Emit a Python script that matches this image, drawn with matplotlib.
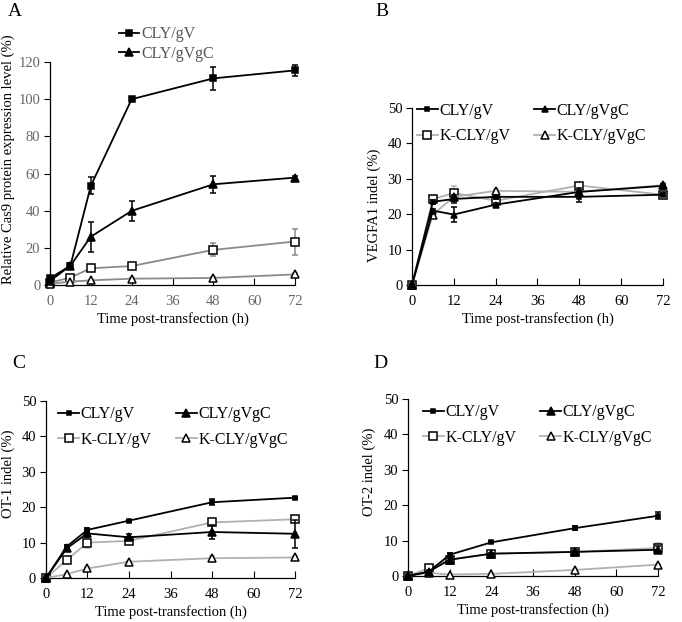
import numpy as np
import matplotlib
matplotlib.use('Agg')
from matplotlib import pyplot as plt

plt.rcParams['font.family'] = ['Liberation Serif', 'DejaVu Serif']
plt.rcParams['font.size'] = 10.5

hours = [0, 6, 12, 24, 48, 72]
labels = ['CLY/gV', 'CLY/gVgC', 'K-CLY/gV', 'K-CLY/gVgC']

# panel A: relative Cas9 protein expression (%)
a_gv = [3.6, 10.4, 53.4, 100, 111.2, 115.5]
a_gv_err = [0, 1.5, 4.5, 0, 6, 3]
a_gvgc = [2.2, 10.4, 26, 39.9, 54.2, 57.8]
a_gvgc_err = [0, 1.5, 8, 5.5, 4.5, 1]
a_kgv = [1.3, 4, 9, 10.2, 18.9, 23.4]
a_kgv_err = [0, 1, 1, 1, 3.5, 7]
a_kgvgc = [0.7, 1.8, 2.5, 3.4, 3.8, 5.7]
a_kgvgc_err = [0, 0.3, 0.3, 0.3, 0.5, 0.8]

# panel B: VEGFA1 indel (%)
b_gv = [0, 23.5, 24.3, 24.9, 24.9, 25.5]
b_gv_err = [0, 0.5, 1, 0.5, 1.5, 0.5]
b_gvgc = [0, 21, 19.9, 22.7, 26.3, 28]
b_gvgc_err = [0, 0.5, 2, 0.5, 1, 0.5]
b_kgv = [0, 24.2, 26, 23.8, 28.1, 25.5]
b_kgv_err = [0, 0.5, 2, 0.5, 0.5, 0.5]
b_kgvgc = [0, 19.9, 24.9, 26.6, 26.3, 28.2]
b_kgvgc_err = [0, 0.5, 1, 0.5, 0.5, 0.5]

# panel C: OT-1 indel (%)
c_gv = [0, 8.9, 13.6, 16.2, 21.4, 22.7]
c_gv_err = [0, 0.5, 0.5, 0.3, 0.8, 0.3]
c_gvgc = [0, 8.4, 12.6, 11.5, 13.0, 12.5]
c_gvgc_err = [0, 0.5, 1, 0.8, 2, 4]
c_kgv = [0, 5.1, 10, 10.5, 15.7, 16.6]
c_kgv_err = [0, 0.5, 1.5, 0.5, 0.5, 0.5]
c_kgvgc = [0, 1.1, 2.7, 4.6, 5.6, 5.8]
c_kgvgc_err = [0, 0.2, 0.3, 0.3, 0.5, 0.5]

# panel D: OT-2 indel (%)
d_gv = [0, 1.2, 6.0, 9.5, 13.5, 17.0]
d_gv_err = [0, 0.3, 0.5, 0.3, 0.6, 1]
d_gvgc = [0, 1.2, 4.6, 6.3, 6.8, 7.4]
d_gvgc_err = [0, 0.3, 0.5, 0.3, 0.5, 1]
d_kgv = [0, 2.2, 4.6, 6.3, 6.8, 7.9]
d_kgv_err = [0, 0.3, 0.5, 0.5, 1, 1.5]
d_kgvgc = [0, 0.9, 0.4, 0.6, 1.7, 3.2]
d_kgvgc_err = [0, 0.1, 0.1, 0.1, 0.2, 0.3]


def style_axes(ax, ymax, ystep, ylabel, label_xy, tick_col='k'):
    for side in ['top', 'right']:
        ax.spines[side].set_visible(False)
    ax.set_xlim(0, 72)
    ax.set_ylim(0, ymax)
    ax.set_xticks(np.arange(0, 73, 12))
    ax.set_yticks(np.arange(0, ymax + 1, ystep))
    ax.tick_params(axis='x', direction='in', length=5, pad=7, labelcolor=tick_col)
    ax.tick_params(axis='y', direction='out', length=4, pad=3, labelcolor=tick_col)
    ax.set_xlabel('Time post-transfection (h)', labelpad=3)
    ax.set_ylabel(ylabel)
    ax.yaxis.set_label_coords(*label_xy)
    for sp in ax.spines.values():
        sp.set_linewidth(0.9)


def draw_series(ax, ys, errs, small_sq=True, grey_col='#b0b0b0', tri_ms=5.5):
    specs = [
        ('k', 's', 'k', 2.8 if small_sq else 5),
        ('k', '^', 'k', tri_ms),
        (grey_col, 's', 'w', 5.5),
        (grey_col, '^', 'w', 5.5),
    ]
    handles = []
    for i, (y, e) in enumerate(zip(ys, errs)):
        col, mk, fc, ms = specs[i]
        h = ax.errorbar(hours, y, yerr=e, color=col, marker=mk, markerfacecolor=fc,
                        markeredgecolor='k', markeredgewidth=1.1, markersize=ms,
                        linewidth=1.3, elinewidth=1.1, capsize=2.5, capthick=1.1,
                        clip_on=False, zorder=3 + (1 if i < 2 else 0))
        handles.append(h.lines[0])
    return handles


fig = plt.figure(figsize=(6.82, 6.22), dpi=100)

axA = fig.add_axes([0.0733, 0.5418, 0.3593, 0.3585])
axB = fig.add_axes([0.6041, 0.5418, 0.3680, 0.2846])
axC = fig.add_axes([0.0674, 0.0707, 0.3652, 0.2846])
axD = fig.add_axes([0.5982, 0.0740, 0.3666, 0.2846])

hA = draw_series(axA, [a_gv, a_gvgc, a_kgv, a_kgvgc],
                 [a_gv_err, a_gvgc_err, a_kgv_err, a_kgvgc_err],
                 small_sq=False, grey_col='#8a8a8a')
style_axes(axA, 120, 20, 'Relative Cas9 protein expression level (%)',
           (-0.143, 0.565), tick_col='#666666')
legA = axA.legend(hA[:2], labels[:2], loc='upper left', bbox_to_anchor=(0.28, 1.16),
                  frameon=False, handlelength=1.3, handletextpad=0.1, fontsize=11.5,
                  labelspacing=0.2, borderpad=0, borderaxespad=0)
for t in legA.get_texts():
    t.set_color('#555555')

order = [0, 2, 1, 3]
for ax, ys, errs, ylab, anchor, lxy, tri in [
    (axB, [b_gv, b_gvgc, b_kgv, b_kgvgc], [b_gv_err, b_gvgc_err, b_kgv_err, b_kgvgc_err],
     'VEGFA1 indel (%)', (0.02, 1.03), (-0.124, 0.45), 4.2),
    (axC, [c_gv, c_gvgc, c_kgv, c_kgvgc], [c_gv_err, c_gvgc_err, c_kgv_err, c_kgvgc_err],
     'OT-1 indel (%)', (0.05, 0.97), (-0.124, 0.59), 5.5),
    (axD, [d_gv, d_gvgc, d_kgv, d_kgvgc], [d_gv_err, d_gvgc_err, d_kgv_err, d_kgvgc_err],
     'OT-2 indel (%)', (0.06, 0.97), (-0.128, 0.59), 5.5),
]:
    h = draw_series(ax, ys, errs, tri_ms=tri)
    style_axes(ax, 50, 10, ylab, lxy)
    ax.legend([h[i] for i in order], [labels[i] for i in order], ncol=2,
              loc='upper left', bbox_to_anchor=anchor, fontsize=11.5,
              frameon=False, handlelength=1.3, handletextpad=0.1,
              labelspacing=0.6, columnspacing=1.5, borderpad=0, borderaxespad=0)

fig.text(0.012, 0.995, 'A', fontsize=14, va='top')
fig.text(0.551, 0.995, 'B', fontsize=14, va='top')
fig.text(0.018, 0.430, 'C', fontsize=14, va='top')
fig.text(0.548, 0.430, 'D', fontsize=14, va='top')

fig.savefig('out.png', dpi=100)
